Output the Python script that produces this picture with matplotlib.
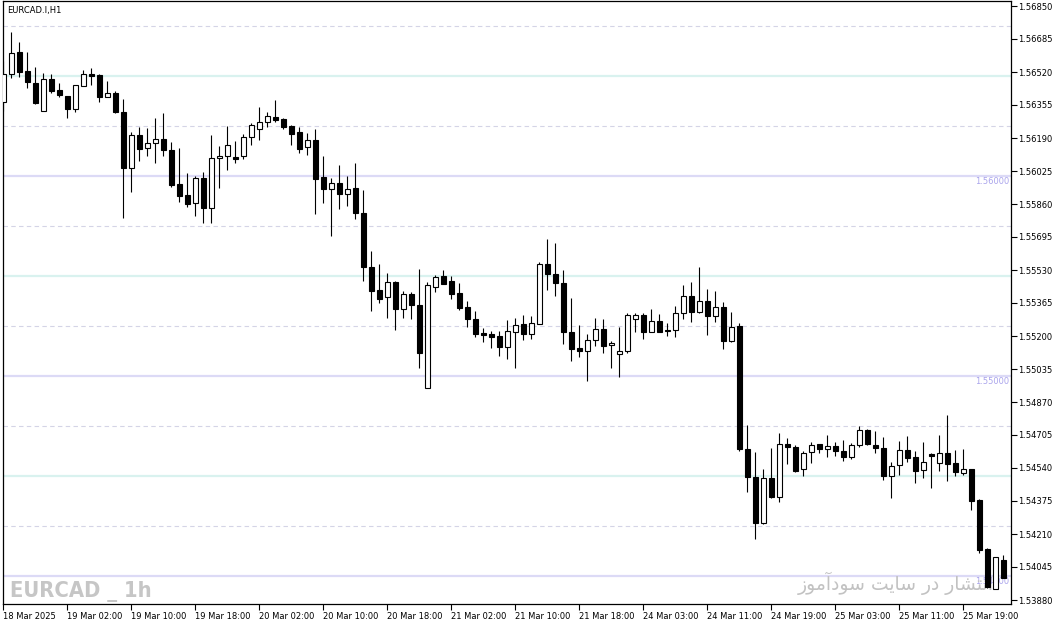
import matplotlib
matplotlib.use("Agg")
import matplotlib.pyplot as plt
from matplotlib import font_manager
import numpy as np

# EURCAD.I H1 candles, 18 Mar 18:00 -> 26 Mar 00:00
opens = [1.56372, 1.56508, 1.56619, 1.56525, 1.56464, 1.56324, 1.56485, 1.56430, 1.56400, 1.56334,
         1.56449, 1.56510, 1.56505, 1.56397, 1.56414, 1.56319, 1.56042, 1.56205, 1.56139, 1.56164,
         1.56184, 1.56129, 1.55959, 1.55904, 1.55864, 1.55989, 1.55842, 1.56089, 1.56099, 1.56094,
         1.56099, 1.56194, 1.56237, 1.56269, 1.56294, 1.56284, 1.56250, 1.56219, 1.56144, 1.56180,
         1.55995, 1.55934, 1.55964, 1.55909, 1.55939, 1.55817, 1.55545, 1.55429, 1.55394, 1.55470,
         1.55337, 1.55409, 1.55354, 1.54939, 1.55447, 1.55500, 1.55475, 1.55415, 1.55345, 1.55285,
         1.55215, 1.55209, 1.55200, 1.55144, 1.55219, 1.55259, 1.55209, 1.55259, 1.55560, 1.55510,
         1.55465, 1.55219, 1.55139, 1.55124, 1.55179, 1.55234, 1.55154, 1.55109, 1.55124, 1.55284,
         1.55304, 1.55222, 1.55274, 1.55230, 1.55230, 1.55314, 1.55400, 1.55322, 1.55374, 1.55302,
         1.55344, 1.55174, 1.55249, 1.54634, 1.54494, 1.54267, 1.54489, 1.54397, 1.54659, 1.54647,
         1.54534, 1.54622, 1.54659, 1.54634, 1.54649, 1.54627, 1.54597, 1.54655, 1.54730, 1.54655,
         1.54640, 1.54499, 1.54554, 1.54630, 1.54595, 1.54529, 1.54612, 1.54564, 1.54614, 1.54564,
         1.54514, 1.54535, 1.54379, 1.54134, 1.53933, 1.54080]
highs = [1.56575, 1.56722, 1.56672, 1.56622, 1.56545, 1.56514, 1.56510, 1.56464, 1.56401, 1.56454,
         1.56530, 1.56539, 1.56510, 1.56475, 1.56425, 1.56385, 1.56219, 1.56247, 1.56239, 1.56289,
         1.56314, 1.56169, 1.56139, 1.56014, 1.56000, 1.56019, 1.56205, 1.56150, 1.56250, 1.56175,
         1.56210, 1.56264, 1.56347, 1.56320, 1.56380, 1.56289, 1.56257, 1.56245, 1.56214, 1.56234,
         1.56100, 1.55989, 1.56055, 1.56000, 1.56064, 1.55930, 1.55625, 1.55562, 1.55515, 1.55474,
         1.55425, 1.55422, 1.55535, 1.55469, 1.55505, 1.55530, 1.55500, 1.55467, 1.55375, 1.55325,
         1.55242, 1.55225, 1.55225, 1.55280, 1.55289, 1.55305, 1.55300, 1.55570, 1.55685, 1.55664,
         1.55530, 1.55389, 1.55254, 1.55209, 1.55289, 1.55284, 1.55177, 1.55244, 1.55314, 1.55314,
         1.55314, 1.55334, 1.55309, 1.55264, 1.55350, 1.55455, 1.55469, 1.55547, 1.55435, 1.55425,
         1.55369, 1.55320, 1.55265, 1.54755, 1.54619, 1.54535, 1.54639, 1.54714, 1.54689, 1.54655,
         1.54627, 1.54669, 1.54660, 1.54705, 1.54672, 1.54680, 1.54664, 1.54752, 1.54735, 1.54725,
         1.54695, 1.54572, 1.54675, 1.54700, 1.54625, 1.54669, 1.54615, 1.54705, 1.54805, 1.54630,
         1.54634, 1.54536, 1.54384, 1.54142, 1.54097, 1.54105]
lows = [1.56325, 1.56492, 1.56497, 1.56439, 1.56361, 1.56323, 1.56417, 1.56397, 1.56292, 1.56322,
        1.56448, 1.56455, 1.56372, 1.56396, 1.56316, 1.55792, 1.55922, 1.56077, 1.56102, 1.56064,
        1.56102, 1.55947, 1.55872, 1.55847, 1.55802, 1.55767, 1.55767, 1.55942, 1.56030, 1.56067,
        1.56087, 1.56157, 1.56180, 1.56247, 1.56272, 1.56234, 1.56157, 1.56117, 1.56107, 1.55812,
        1.55867, 1.55702, 1.55833, 1.55850, 1.55784, 1.55477, 1.55327, 1.55364, 1.55292, 1.55232,
        1.55289, 1.55284, 1.55040, 1.54938, 1.55422, 1.55458, 1.55384, 1.55330, 1.55247, 1.55197,
        1.55172, 1.55142, 1.55102, 1.55084, 1.55039, 1.55180, 1.55184, 1.55258, 1.55430, 1.55402,
        1.55159, 1.55077, 1.55097, 1.54977, 1.55150, 1.55114, 1.55039, 1.54997, 1.55114, 1.55222,
        1.55184, 1.55221, 1.55221, 1.55202, 1.55194, 1.55284, 1.55272, 1.55317, 1.55207, 1.55272,
        1.55137, 1.55169, 1.54627, 1.54419, 1.54184, 1.54260, 1.54389, 1.54372, 1.54559, 1.54522,
        1.54502, 1.54564, 1.54617, 1.54597, 1.54602, 1.54575, 1.54587, 1.54647, 1.54655, 1.54614,
        1.54480, 1.54392, 1.54505, 1.54572, 1.54467, 1.54492, 1.54442, 1.54527, 1.54477, 1.54502,
        1.54505, 1.54332, 1.54117, 1.53940, 1.53933, 1.53988]
closes = [1.56508, 1.56613, 1.56522, 1.56469, 1.56363, 1.56485, 1.56427, 1.56407, 1.56334, 1.56453,
          1.56508, 1.56502, 1.56397, 1.56414, 1.56318, 1.56042, 1.56205, 1.56137, 1.56164, 1.56184,
          1.56130, 1.55957, 1.55902, 1.55859, 1.55989, 1.55842, 1.56089, 1.56099, 1.56154, 1.56087,
          1.56194, 1.56255, 1.56269, 1.56300, 1.56282, 1.56244, 1.56212, 1.56137, 1.56180, 1.55987,
          1.55934, 1.55963, 1.55909, 1.55934, 1.55814, 1.55543, 1.55427, 1.55387, 1.55469, 1.55337,
          1.55409, 1.55354, 1.55117, 1.55454, 1.55497, 1.55459, 1.55412, 1.55342, 1.55284, 1.55212,
          1.55207, 1.55197, 1.55147, 1.55225, 1.55253, 1.55209, 1.55264, 1.55560, 1.55509, 1.55464,
          1.55219, 1.55137, 1.55124, 1.55179, 1.55234, 1.55152, 1.55164, 1.55124, 1.55304, 1.55304,
          1.55222, 1.55274, 1.55222, 1.55224, 1.55314, 1.55399, 1.55319, 1.55374, 1.55302, 1.55344,
          1.55174, 1.55244, 1.54634, 1.54494, 1.54267, 1.54489, 1.54397, 1.54659, 1.54647, 1.54523,
          1.54614, 1.54654, 1.54634, 1.54649, 1.54627, 1.54597, 1.54654, 1.54729, 1.54659, 1.54639,
          1.54502, 1.54550, 1.54629, 1.54589, 1.54527, 1.54569, 1.54600, 1.54614, 1.54562, 1.54519,
          1.54534, 1.54377, 1.54129, 1.53945, 1.54096, 1.53990]

time_labels = ["18 Mar 2025", "19 Mar 02:00", "19 Mar 10:00", "19 Mar 18:00", "20 Mar 02:00",
               "20 Mar 10:00", "20 Mar 18:00", "21 Mar 02:00", "21 Mar 10:00", "21 Mar 18:00",
               "24 Mar 03:00", "24 Mar 11:00", "24 Mar 19:00", "25 Mar 03:00", "25 Mar 11:00",
               "25 Mar 19:00"]
price_ticks = [1.56850, 1.56685, 1.56520, 1.56355, 1.56190, 1.56025, 1.55860, 1.55695, 1.55530,
               1.55365, 1.55200, 1.55035, 1.54870, 1.54705, 1.54540, 1.54375, 1.54210, 1.54045,
               1.53880]
dashed_levels = [1.5675, 1.5625, 1.5575, 1.5525, 1.5475, 1.5425]
cyan_levels = [1.5650, 1.5550, 1.5450]
round_levels = [1.5600, 1.5500, 1.5400]

# persian watermark, presentation forms in visual order (matplotlib has no shaping / bidi)
fa_logical = ("\ufe8d\ufee7\ufe98\ufeb8\ufe8e\ufead \ufea9\ufead "
              "\ufeb3\ufe8e\ufef3\ufe96 \ufeb3\ufeee\ufea9\ufe81\ufee3\ufeee\ufeaf")
fa_text = fa_logical[::-1]

W, H = 1056, 625
fig = plt.figure(figsize=(W / 100, H / 100), dpi=100)
ax = fig.add_axes([2.5 / W, 21 / H, 1008 / W, 603 / H])

o = np.array(opens)
h = np.array(highs)
l = np.array(lows)
c = np.array(closes)
x = np.arange(len(o))
up = c >= o

# level lines
for lv in dashed_levels:
    ax.axhline(lv, color="#d4d4e6", lw=0.8, ls=(0, (4, 3)), zorder=1)
for lv in cyan_levels:
    ax.axhline(lv, color="#d9f2ef", lw=1.6, zorder=1)
for lv in round_levels:
    ax.axhline(lv, color="#dcdaf6", lw=1.6, zorder=1)
    ax.text(125.75, lv - 0.00004, "%.5f" % lv, ha="right", va="top", fontsize=6,
            color="#aaa4ec", zorder=2)

# watermarks - a narrow bold face if there is one, then fit to the reference width
names = {f.name for f in font_manager.fontManager.ttflist}
if "Liberation Sans Narrow" in names:
    wm_kw = dict(family=["Liberation Sans Narrow", "DejaVu Sans"])
else:
    wm_kw = dict(family=["DejaVu Sans"], fontstretch="condensed")
wm = ax.text(8 / 1008, (604 - 597) / 603, "EURCAD _ 1h", transform=ax.transAxes,
             fontweight="bold", fontsize=20, color="#c6c6c6", ha="left",
             va="baseline", zorder=2, **wm_kw)
fa = ax.text(991 / 1008, (604 - 583) / 603, fa_text, transform=ax.transAxes,
             family=["DejaVu Sans"], fontsize=13.5, color="#c2c2c2", ha="right",
             va="center", zorder=2)
fig.canvas.draw()
bb = wm.get_window_extent()
wm.set_fontsize(20 * 142 / bb.width)

# candles
ax.vlines(x, l, h, color="black", lw=0.8, zorder=3)
body_lo = np.minimum(o, c)
body_h = np.maximum(np.abs(c - o), 0.00003)
ax.bar(x, body_h, bottom=body_lo, width=0.58,
       color=np.where(up, "white", "black"), edgecolor="black", linewidth=0.8, zorder=4)

ax.text(5 / 1008, 1 - 9 / 603, "EURCAD.I,H1", transform=ax.transAxes,
        fontsize=6, color="black", ha="left", va="center")

ax.set_xlim(-0.1, 125.9)
ax.set_ylim(1.53860, 1.56875)

ax.set_xticks(np.arange(len(time_labels)) * 8)
ax.set_xticklabels(time_labels, ha="left", fontsize=6)
ax.yaxis.tick_right()
ax.set_yticks(price_ticks)
ax.set_yticklabels(["%.5f" % v for v in price_ticks], fontsize=6)
ax.tick_params(axis="both", direction="out", length=4, width=0.8, color="black", pad=1.5)
for s in ax.spines.values():
    s.set_color("black")
    s.set_linewidth(0.9)

fig.savefig("out.png", dpi=100, facecolor="white")
